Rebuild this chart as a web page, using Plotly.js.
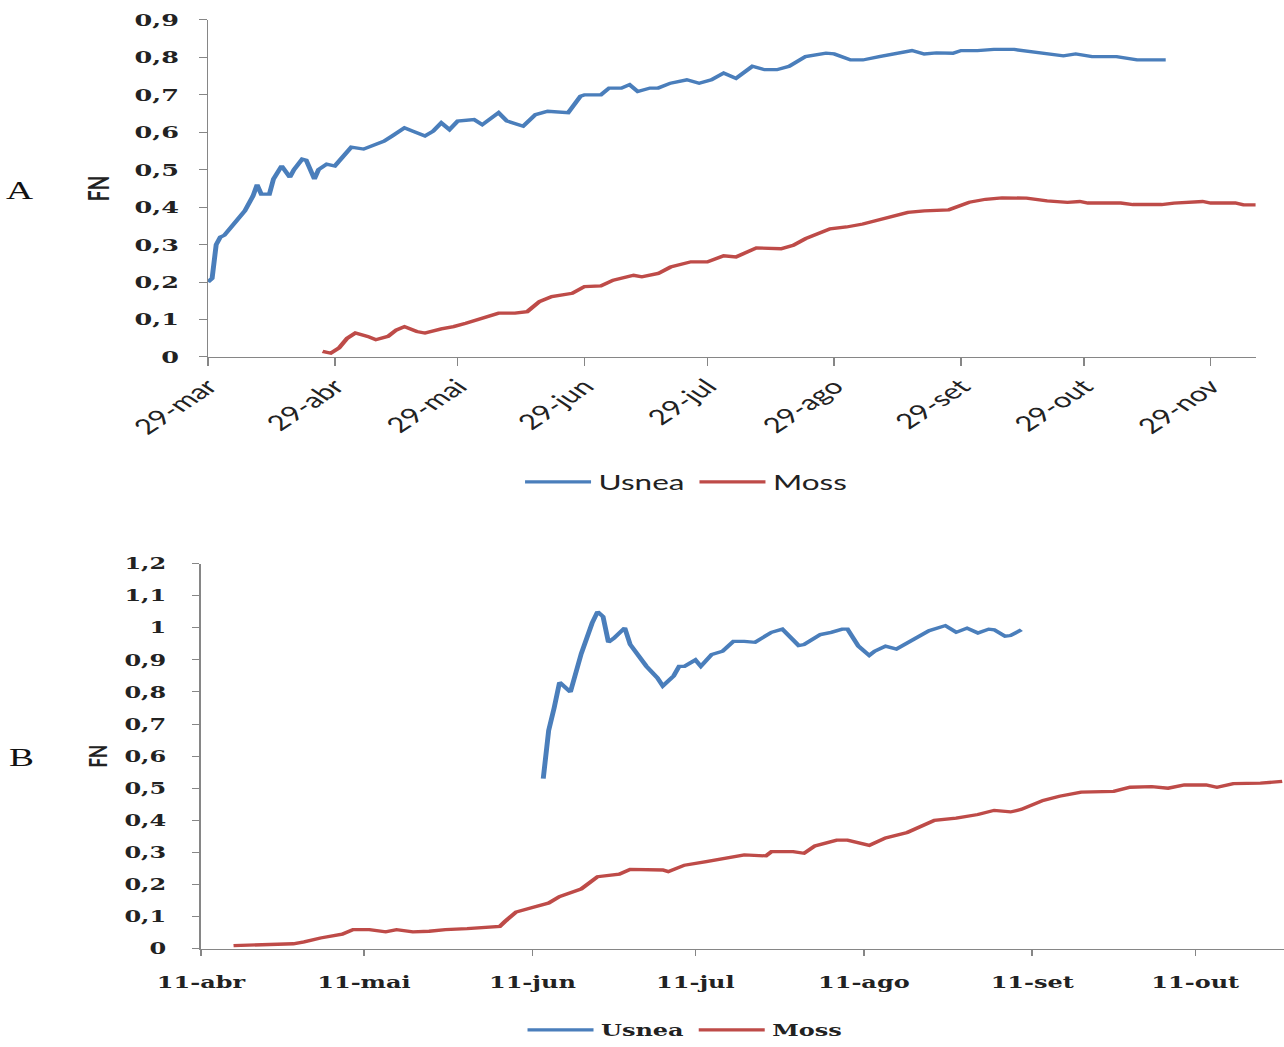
<!DOCTYPE html>
<html>
<head>
<meta charset="utf-8">
<script src="https://cdn.plot.ly/plotly-3.0.1.min.js"></script>
<style>
  html, body { margin:0; padding:0; background:#fff; overflow:hidden; }
  #wrap { width:1284px; height:1047px; overflow:hidden; }
  #plot { width:856px; height:1047px; transform:scaleX(1.5); transform-origin:0 0; }
</style>
</head>
<body>
<div id="wrap"><div id="plot"></div></div>
<script>
// ---- Chart A data ----
const usneaA_dates = ['2011-03-29','2011-03-30','2011-03-31','2011-04-01','2011-04-02','2011-04-03','2011-04-05','2011-04-07','2011-04-08','2011-04-09','2011-04-10','2011-04-11','2011-04-13','2011-04-14','2011-04-16','2011-04-18','2011-04-19','2011-04-21','2011-04-22','2011-04-24','2011-04-25','2011-04-27','2011-04-29','2011-05-01','2011-05-03','2011-05-06','2011-05-08','2011-05-11','2011-05-13','2011-05-16','2011-05-18','2011-05-21','2011-05-23','2011-05-25','2011-05-27','2011-05-29','2011-06-02','2011-06-04','2011-06-08','2011-06-10','2011-06-14','2011-06-17','2011-06-20','2011-06-25','2011-06-28','2011-06-29','2011-07-03','2011-07-05','2011-07-08','2011-07-10','2011-07-12','2011-07-15','2011-07-17','2011-07-20','2011-07-24','2011-07-27','2011-07-30','2011-08-02','2011-08-05','2011-08-09','2011-08-12','2011-08-15','2011-08-18','2011-08-22','2011-08-27','2011-08-29','2011-09-02','2011-09-05','2011-09-09','2011-09-13','2011-09-17','2011-09-20','2011-09-23','2011-09-27','2011-09-29','2011-10-03','2011-10-07','2011-10-12','2011-10-16','2011-10-20','2011-10-24','2011-10-27','2011-10-31','2011-11-06','2011-11-11','2011-11-18'];
const usneaA_fn = [0.20,0.21,0.30,0.32,0.325,0.338,0.36,0.39,0.41,0.43,0.46,0.435,0.435,0.475,0.51,0.48,0.50,0.528,0.525,0.475,0.50,0.515,0.51,0.533,0.56,0.555,0.563,0.576,0.59,0.612,0.603,0.59,0.603,0.625,0.607,0.63,0.634,0.62,0.652,0.63,0.616,0.647,0.656,0.652,0.696,0.70,0.70,0.718,0.718,0.727,0.709,0.718,0.718,0.731,0.74,0.731,0.74,0.758,0.744,0.776,0.767,0.767,0.776,0.802,0.811,0.809,0.793,0.793,0.802,0.811,0.818,0.809,0.812,0.811,0.818,0.818,0.821,0.821,0.815,0.809,0.804,0.809,0.802,0.802,0.793,0.793];

const mossA_dates = ['2011-04-26','2011-04-28','2011-04-30','2011-05-02','2011-05-04','2011-05-07','2011-05-09','2011-05-12','2011-05-14','2011-05-16','2011-05-19','2011-05-21','2011-05-25','2011-05-28','2011-05-31','2011-06-04','2011-06-08','2011-06-12','2011-06-15','2011-06-18','2011-06-21','2011-06-26','2011-06-29','2011-07-03','2011-07-06','2011-07-11','2011-07-13','2011-07-17','2011-07-20','2011-07-25','2011-07-29','2011-08-02','2011-08-05','2011-08-10','2011-08-16','2011-08-19','2011-08-22','2011-08-28','2011-09-01','2011-09-05','2011-09-11','2011-09-16','2011-09-20','2011-09-26','2011-10-01','2011-10-05','2011-10-09','2011-10-15','2011-10-20','2011-10-25','2011-10-28','2011-10-30','2011-11-07','2011-11-10','2011-11-17','2011-11-20','2011-11-27','2011-11-29','2011-12-05','2011-12-07','2011-12-10'];
const mossA_fn = [0.015,0.01,0.024,0.05,0.064,0.055,0.046,0.055,0.072,0.081,0.068,0.064,0.075,0.081,0.09,0.103,0.117,0.117,0.121,0.148,0.161,0.17,0.188,0.19,0.205,0.218,0.214,0.223,0.24,0.254,0.254,0.27,0.267,0.291,0.289,0.298,0.316,0.342,0.347,0.355,0.373,0.386,0.39,0.393,0.413,0.421,0.425,0.424,0.417,0.413,0.415,0.411,0.411,0.407,0.407,0.411,0.415,0.411,0.411,0.406,0.406];

const tickA_vals = ['2011-03-29','2011-04-29','2011-05-29','2011-06-29','2011-07-29','2011-08-29','2011-09-29','2011-10-29','2011-11-29'];
const tickA_text = ['29-mar','29-abr','29-mai','29-jun','29-jul','29-ago','29-set','29-out','29-nov'];

// ---- Chart B data ----
const usneaB_dates = ['2011-06-13','2011-06-14','2011-06-15','2011-06-16','2011-06-18','2011-06-20','2011-06-22','2011-06-23','2011-06-24','2011-06-25','2011-06-26','2011-06-28','2011-06-29','2011-07-01','2011-07-02','2011-07-04','2011-07-05','2011-07-07','2011-07-08','2011-07-09','2011-07-11','2011-07-12','2011-07-14','2011-07-16','2011-07-18','2011-07-20','2011-07-22','2011-07-25','2011-07-27','2011-07-30','2011-07-31','2011-08-03','2011-08-05','2011-08-07','2011-08-08','2011-08-10','2011-08-12','2011-08-13','2011-08-15','2011-08-17','2011-08-19','2011-08-21','2011-08-23','2011-08-26','2011-08-28','2011-08-30','2011-09-01','2011-09-03','2011-09-04','2011-09-06','2011-09-07','2011-09-09'];
const usneaB_fn = [0.53,0.68,0.75,0.83,0.80,0.92,1.015,1.05,1.035,0.955,0.968,1.00,0.948,0.906,0.88,0.844,0.819,0.85,0.88,0.88,0.90,0.88,0.917,0.927,0.958,0.958,0.955,0.986,0.996,0.945,0.948,0.979,0.986,0.996,0.996,0.943,0.914,0.927,0.943,0.934,0.953,0.974,0.991,1.007,0.986,0.999,0.984,0.996,0.994,0.974,0.976,0.994];

const mossB_dates = ['2011-04-17','2011-04-22','2011-04-28','2011-04-30','2011-05-03','2011-05-07','2011-05-09','2011-05-12','2011-05-15','2011-05-17','2011-05-20','2011-05-23','2011-05-26','2011-05-30','2011-06-01','2011-06-05','2011-06-06','2011-06-08','2011-06-11','2011-06-14','2011-06-16','2011-06-20','2011-06-23','2011-06-27','2011-06-29','2011-07-05','2011-07-06','2011-07-09','2011-07-13','2011-07-16','2011-07-20','2011-07-24','2011-07-25','2011-07-29','2011-07-31','2011-08-02','2011-08-06','2011-08-08','2011-08-12','2011-08-15','2011-08-19','2011-08-24','2011-08-28','2011-09-01','2011-09-04','2011-09-07','2011-09-09','2011-09-13','2011-09-16','2011-09-20','2011-09-26','2011-09-29','2011-10-03','2011-10-06','2011-10-09','2011-10-13','2011-10-15','2011-10-18','2011-10-23','2011-10-27'];
const mossB_fn = [0.009,0.012,0.015,0.021,0.033,0.045,0.059,0.059,0.052,0.059,0.052,0.054,0.059,0.062,0.064,0.069,0.085,0.114,0.128,0.142,0.162,0.186,0.224,0.232,0.247,0.245,0.24,0.26,0.271,0.279,0.292,0.289,0.302,0.302,0.297,0.32,0.338,0.338,0.322,0.345,0.362,0.40,0.407,0.418,0.431,0.426,0.434,0.462,0.475,0.488,0.49,0.503,0.505,0.50,0.51,0.51,0.503,0.514,0.516,0.521];

const tickB_vals = ['2011-04-11','2011-05-11','2011-06-11','2011-07-11','2011-08-11','2011-09-11','2011-10-11'];
const tickB_text = ['11-abr','11-mai','11-jun','11-jul','11-ago','11-set','11-out'];

const seriesNames = ['Usnea','Moss'];
const BLUE = '#4A7EBB', RED = '#BE4B48';
const AXIS = '#868686', TXT = '#222222';
const LW = 3.3;

const traces = [
  {x: usneaA_dates, y: usneaA_fn, name: seriesNames[0], type:'scatter', mode:'lines', line:{color:BLUE, width:LW}, xaxis:'x', yaxis:'y', legend:'legend'},
  {x: mossA_dates, y: mossA_fn, name: seriesNames[1], type:'scatter', mode:'lines', line:{color:RED, width:LW}, xaxis:'x', yaxis:'y', legend:'legend'},
  {x: usneaB_dates, y: usneaB_fn, name: seriesNames[0], type:'scatter', mode:'lines', line:{color:BLUE, width:LW}, xaxis:'x2', yaxis:'y2', legend:'legend2'},
  {x: mossB_dates, y: mossB_fn, name: seriesNames[1], type:'scatter', mode:'lines', line:{color:RED, width:LW}, xaxis:'x2', yaxis:'y2', legend:'legend2'}
];

const serifBold = {family:'DejaVu Serif', size:16, color:TXT, weight:'bold'};

const commonAxis = {
  showline:true, linecolor:AXIS, linewidth:1, showgrid:false, zeroline:false,
  ticks:'outside', tickcolor:AXIS, tickwidth:1, fixedrange:true
};

const layout = {
  width: 856, height: 1047,
  margin: {l:0, r:0, t:0, b:0},
  paper_bgcolor:'#ffffff', plot_bgcolor:'#ffffff',
  separators: ',.',
  showlegend: true,
  xaxis: Object.assign({}, commonAxis, {
    domain:[0.162, 0.978], anchor:'y', type:'date',
    range:['2011-03-29','2011-12-10'],
    tickmode:'array', tickvals:tickA_vals, ticktext:tickA_text,
    tickangle:-45, ticklen:8,
    tickfont:{family:'Lato', size:21, color:TXT}
  }),
  yaxis: Object.assign({}, commonAxis, {
    domain:[0.6571, 0.9809], anchor:'x',
    range:[0, 0.9], tick0:0, dtick:0.1, ticklen:5, ticklabelstandoff:10,
    tickfont:{family:'DejaVu Serif', size:17, color:TXT, weight:'bold'},
    title:{text:'FN', font:{family:'Lato', size:19, color:TXT, weight:'bold'}, standoff:11}
  }),
  xaxis2: Object.assign({}, commonAxis, {
    domain:[0.1565, 1.0], anchor:'y2', type:'date',
    range:['2011-04-11','2011-10-27 08:00'],
    tickmode:'array', tickvals:tickB_vals, ticktext:tickB_text,
    tickangle:0, ticklen:6, ticklabelstandoff:13,
    tickfont:serifBold
  }),
  yaxis2: Object.assign({}, commonAxis, {
    domain:[0.0888, 0.4585], anchor:'x2',
    range:[0, 1.2], tick0:0, dtick:0.1, ticklen:5, ticklabelstandoff:14,
    tickfont:{family:'DejaVu Serif', size:16, color:TXT, weight:'bold'},
    title:{text:'FN', font:{family:'Lato', size:17, color:TXT, weight:'bold'}, standoff:6}
  }),
  legend: {
    orientation:'h', x:0.5345, xanchor:'center', y:0.5368, yanchor:'middle', itemwidth:44,
    font:{family:'Lato', size:21, color:TXT}, bgcolor:'rgba(0,0,0,0)'
  },
  legend2: {
    orientation:'h', x:0.5335, xanchor:'center', y:0.0105, yanchor:'middle', itemwidth:44,
    font:serifBold, bgcolor:'rgba(0,0,0,0)'
  },
  annotations: [
    {text:'A', xref:'paper', yref:'paper', x:0.0156, y:0.8166, xanchor:'center', yanchor:'middle', showarrow:false, font:{family:'Liberation Serif', size:25, color:'#111'}},
    {text:'B', xref:'paper', yref:'paper', x:0.0171, y:0.2722, xanchor:'center', yanchor:'middle', showarrow:false, font:{family:'Liberation Serif', size:25, color:'#111'}}
  ]
};

Plotly.newPlot('plot', traces, layout, {staticPlot:true, displayModeBar:false, responsive:false});
</script>
</body>
</html>
